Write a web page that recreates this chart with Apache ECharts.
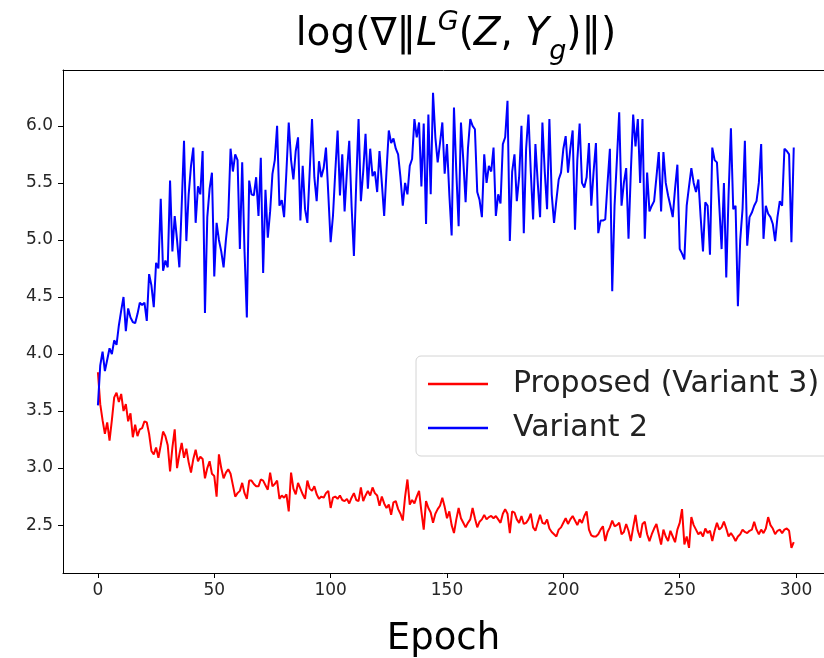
<!DOCTYPE html>
<html lang="en">
<head>
<meta charset="utf-8"/>
<title>log gradient norm</title>
<script src="https://cdn.jsdelivr.net/npm/echarts@6/dist/echarts.min.js"></script>
<style>
  html, body { margin: 0; padding: 0; background: #fff; }
  #chart { width: 824px; height: 658px; }
</style>
</head>
<body>
<div id="chart"></div>
<script type="text/javascript">
// values, one per epoch (0..299)
var proposed = [
  3.84,3.56,3.42,3.30,3.40,3.24,3.42,3.62,3.66,3.58,
  3.65,3.50,3.56,3.41,3.48,3.27,3.38,3.28,3.34,3.35,
  3.41,3.40,3.30,3.15,3.12,3.18,3.09,3.20,3.32,3.28,
  3.20,2.97,3.18,3.34,3.00,3.12,3.22,3.09,3.17,3.05,
  2.96,3.08,3.16,3.06,3.10,3.08,2.91,3.00,3.06,2.95,
  2.93,2.75,3.12,3.00,2.91,2.96,2.99,2.95,2.85,2.75,
  2.78,2.80,2.87,2.78,2.73,2.89,2.89,2.86,2.84,2.84,
  2.90,2.89,2.85,2.81,2.96,2.84,2.86,2.89,2.73,2.76,
  2.74,2.77,2.62,2.96,2.82,2.77,2.87,2.82,2.77,2.73,
  2.89,2.82,2.80,2.84,2.77,2.73,2.75,2.74,2.78,2.80,
  2.65,2.74,2.75,2.73,2.76,2.72,2.71,2.73,2.69,2.74,
  2.78,2.72,2.71,2.83,2.71,2.76,2.80,2.76,2.83,2.78,
  2.76,2.67,2.75,2.69,2.65,2.68,2.59,2.70,2.71,2.64,
  2.60,2.54,2.75,2.90,2.68,2.72,2.69,2.75,2.80,2.62,
  2.46,2.71,2.65,2.61,2.52,2.60,2.64,2.67,2.74,2.66,
  2.56,2.62,2.50,2.43,2.55,2.65,2.56,2.52,2.48,2.52,
  2.55,2.65,2.56,2.48,2.53,2.55,2.59,2.55,2.57,2.58,
  2.56,2.58,2.55,2.52,2.60,2.64,2.60,2.43,2.62,2.61,
  2.55,2.52,2.58,2.51,2.52,2.55,2.60,2.48,2.45,2.52,
  2.59,2.52,2.51,2.55,2.47,2.44,2.42,2.40,2.46,2.48,
  2.52,2.56,2.51,2.55,2.58,2.54,2.50,2.55,2.52,2.58,
  2.62,2.46,2.41,2.40,2.40,2.42,2.46,2.49,2.36,2.44,
  2.48,2.54,2.49,2.50,2.52,2.42,2.44,2.51,2.45,2.36,
  2.48,2.59,2.45,2.39,2.51,2.53,2.42,2.36,2.42,2.47,
  2.51,2.42,2.33,2.46,2.40,2.36,2.45,2.40,2.35,2.46,
  2.52,2.64,2.33,2.40,2.30,2.57,2.50,2.46,2.42,2.44,
  2.40,2.47,2.43,2.45,2.36,2.45,2.52,2.46,2.48,2.53,
  2.47,2.40,2.43,2.40,2.36,2.40,2.42,2.46,2.44,2.43,
  2.45,2.46,2.53,2.46,2.42,2.46,2.43,2.47,2.57,2.50,
  2.47,2.42,2.45,2.46,2.43,2.46,2.47,2.45,2.30,2.35
];

var variant2 = [
  3.55,3.90,4.02,3.85,3.95,4.05,4.00,4.12,4.08,4.25,
  4.38,4.50,4.20,4.40,4.32,4.28,4.27,4.35,4.45,4.43,
  4.45,4.29,4.70,4.60,4.41,4.80,4.75,5.36,4.73,4.82,
  4.76,5.52,4.90,5.21,5.00,4.76,5.30,5.87,4.99,5.40,
  5.65,5.81,5.15,5.47,5.40,5.78,4.36,5.20,5.45,5.59,
  4.68,5.15,5.00,4.90,4.76,5.00,5.20,5.80,5.60,5.75,
  5.70,4.92,5.68,4.90,4.32,5.52,5.40,5.39,5.55,5.21,
  5.72,4.71,5.44,5.02,5.25,5.58,5.70,6.00,5.30,5.35,
  5.20,5.60,6.03,5.70,5.53,5.78,5.90,5.17,5.65,5.27,
  5.15,5.60,6.06,5.55,5.34,5.69,5.55,5.63,5.81,5.40,
  4.98,5.21,5.60,5.96,5.39,5.75,5.25,5.60,5.87,5.30,
  4.86,5.50,6.06,5.34,5.60,5.93,5.45,5.80,5.56,5.60,
  5.42,5.78,5.50,5.21,5.60,5.96,5.85,5.89,5.80,5.75,
  5.55,5.30,5.50,5.40,5.65,5.71,6.06,5.90,6.03,5.47,
  6.02,5.14,6.10,5.40,6.29,5.90,5.68,5.85,6.03,5.58,
  5.84,5.40,5.04,6.16,5.60,5.12,6.03,5.70,5.33,5.80,
  6.06,6.00,5.97,5.42,5.35,5.20,5.75,5.50,5.65,5.60,
  5.81,5.21,5.40,5.32,5.84,5.90,6.22,4.99,5.60,5.75,
  5.34,5.55,6.00,5.06,5.80,6.10,5.60,5.18,5.84,5.50,
  5.20,6.03,5.60,5.27,6.06,5.40,5.15,5.35,5.53,5.59,
  5.80,5.91,5.59,5.80,5.96,5.09,5.70,6.02,5.50,5.46,
  5.55,5.85,5.30,5.60,5.85,5.06,5.17,5.17,5.18,5.50,
  5.80,4.55,5.30,5.70,6.12,5.30,5.50,5.63,5.01,5.60,
  6.10,5.82,6.06,5.50,6.06,5.01,5.59,5.25,5.30,5.34,
  5.55,5.77,5.25,5.77,5.50,5.39,5.30,5.20,5.45,5.66,
  4.92,4.88,4.83,5.30,5.47,5.63,5.50,5.42,5.53,5.20,
  4.90,5.33,5.30,4.87,5.81,5.70,5.68,5.30,4.92,5.50,
  4.67,5.40,5.98,5.27,5.30,4.42,5.00,5.27,5.87,4.95,
  5.20,5.24,5.30,5.34,5.50,5.84,5.01,5.30,5.23,5.20,
  5.14,4.99,5.20,5.34,5.30,5.80,5.78,5.75,4.98,5.81
];

var seriesNames = ['Proposed (Variant 3)', 'Variant 2'];
var xTicks = [0, 50, 100, 150, 200, 250, 300];
var yTicks = [2.5, 3.0, 3.5, 4.0, 4.5, 5.0, 5.5, 6.0];

var FONT = 'DejaVu Sans';
var chart = echarts.init(document.getElementById('chart'));

function toPairs(arr) {
  return arr.map(function (v, i) { return [i, v]; });
}

var option = {
  animation: false,
  backgroundColor: '#fff',
  title: {
    left: 451,
    textAlign: 'center',
    top: 4,
    text: '{n|log(∇‖}{i|L}{sup|G}{n|(}{i|Z}{n|, }{i|Y}{sub|g}{n|)‖)}',
    textStyle: {
      fontWeight: 'normal',
      rich: {
        n:   { fontFamily: FONT, fontSize: 39, fontWeight: 'normal', color: '#000', lineHeight: 52 },
        i:   { fontFamily: FONT, fontSize: 39, fontWeight: 'normal', color: '#000', fontStyle: 'italic', lineHeight: 52 },
        sup: { fontFamily: FONT, fontSize: 27, fontWeight: 'normal', color: '#000', fontStyle: 'italic', verticalAlign: 'top', lineHeight: 27, padding: [0, 0, 4, 0] },
        sub: { fontFamily: FONT, fontSize: 27, fontWeight: 'normal', color: '#000', fontStyle: 'italic', verticalAlign: 'bottom', lineHeight: 27, padding: [0, 0, -4, 0] }
      }
    }
  },
  legend: {
    left: 416,
    top: 356,
    orient: 'vertical',
    icon: 'rect',
    itemWidth: 60,
    itemHeight: 2.5,
    itemGap: 14,
    padding: [13, 14, 13, 12],
    backgroundColor: '#fff',
    borderColor: '#d4d4d4',
    borderWidth: 1,
    borderRadius: 5,
    textStyle: { fontFamily: FONT, fontSize: 30, color: '#222', padding: [0, 0, 0, 20] },
    data: seriesNames
  },
  grid: {
    left: 63,
    top: 70,
    right: 0,
    bottom: 85,
    outerBoundsMode: 'none'
  },
  xAxis: [
    {
      type: 'value',
      min: -15,
      max: 312,
      name: 'Epoch',
      nameLocation: 'middle',
      nameGap: 48,
      nameTextStyle: { fontFamily: FONT, fontSize: 37, color: '#000' },
      axisLine: { onZero: false, lineStyle: { color: '#000', width: 1 } },
      axisTick: { inside: false, length: 5, customValues: xTicks, lineStyle: { color: '#000' } },
      axisLabel: { customValues: xTicks, fontFamily: FONT, fontSize: 17, color: '#262626', margin: 9 },
      splitLine: { show: false }
    },
    {
      // top spine only
      type: 'value',
      position: 'top',
      min: -15,
      max: 312,
      axisLine: { show: true, onZero: false, lineStyle: { color: '#000', width: 1 } },
      axisTick: { show: false },
      axisLabel: { show: false },
      splitLine: { show: false }
    }
  ],
  yAxis: {
    type: 'value',
    min: 2.08,
    max: 6.49,
    axisLine: { show: true, onZero: false, lineStyle: { color: '#000', width: 1 } },
    axisTick: { show: true, inside: false, length: 5, customValues: yTicks, lineStyle: { color: '#000' } },
    axisLabel: {
      customValues: yTicks,
      fontFamily: FONT, fontSize: 17, color: '#262626', margin: 10,
      formatter: function (v) { return v.toFixed(1); }
    },
    splitLine: { show: false }
  },
  series: [
    {
      name: seriesNames[0],
      type: 'line',
      data: toPairs(proposed),
      showSymbol: false,
      lineStyle: { color: '#ff0000', width: 2 },
      itemStyle: { color: '#ff0000' },
      z: 2
    },
    {
      name: seriesNames[1],
      type: 'line',
      data: toPairs(variant2),
      showSymbol: false,
      lineStyle: { color: '#0000ff', width: 2 },
      itemStyle: { color: '#0000ff' },
      z: 3
    }
  ]
};

chart.setOption(option);
</script>
</body>
</html>
